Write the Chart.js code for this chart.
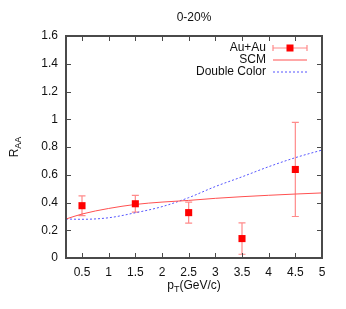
<!DOCTYPE html>
<html>
<head>
<meta charset="utf-8">
<script src="https://cdn.jsdelivr.net/npm/chart.js@4.4.1/dist/chart.umd.min.js"></script>
<style>
  html, body { margin: 0; padding: 0; background: #fff; }
  canvas { display: block; }
</style>
</head>
<body>
<canvas id="raaChart" width="346" height="309"></canvas>
<script>
// data
const ptBins = [0.5, 1.5, 2.5, 3.5, 4.5];
const auauValues = [0.377, 0.391, 0.327, 0.14, 0.638];
const auauErrors = [0.071, 0.061, 0.075, 0.113, 0.339];

const curvePt = [0.2, 0.5, 1, 1.5, 2, 2.5, 3, 3.5, 4, 4.5, 5];
const scmValues = [0.281, 0.317, 0.357, 0.386, 0.403, 0.415, 0.43, 0.442, 0.452, 0.461, 0.469];
const doubleColorValues = [0.281, 0.279, 0.29, 0.326, 0.37, 0.435, 0.515, 0.585, 0.658, 0.723, 0.778];

const xTicks = [0.5, 1, 1.5, 2, 2.5, 3, 3.5, 4, 4.5, 5];
const yTicks = [0, 0.2, 0.4, 0.6, 0.8, 1, 1.2, 1.4, 1.6];

const FONT = '"Liberation Sans", Arial, sans-serif';
const RED = '#ff0000';
const ERR_RED = 'rgba(255, 60, 60, 0.6)';
const LINE_RED = '#ff5050';
const BLUE = '#5555ff';
const FRAME = '#4a4a4a';

function drawErrorBar(ctx, x, yTop, yBot, cap) {
    ctx.beginPath();
    ctx.moveTo(x, yTop); ctx.lineTo(x, yBot);
    ctx.moveTo(x - cap, yTop); ctx.lineTo(x + cap, yTop);
    ctx.moveTo(x - cap, yBot); ctx.lineTo(x + cap, yBot);
    ctx.stroke();
}

// text with a subscript part, horizontally centred on x
function drawSubText(ctx, parts, x, y) {
    let total = 0;
    parts.forEach(p => {
        ctx.font = p.size + 'px ' + FONT;
        total += ctx.measureText(p.text).width;
    });
    let cx = x - total / 2;
    parts.forEach(p => {
        ctx.font = p.size + 'px ' + FONT;
        ctx.fillText(p.text, cx, y + (p.dy || 0));
        cx += ctx.measureText(p.text).width;
    });
}

const tickLabel = v => String(+Number(v).toFixed(1));

const gnuplotLook = {
    id: 'gnuplotLook',
    beforeDatasetsDraw(chart) {
        const { ctx, scales: { x, y } } = chart;
        ctx.save();
        ctx.strokeStyle = ERR_RED;
        ctx.lineWidth = 1.2;
        ptBins.forEach((pt, i) => {
            const px = x.getPixelForValue(pt);
            drawErrorBar(ctx, px,
                y.getPixelForValue(auauValues[i] + auauErrors[i]),
                y.getPixelForValue(auauValues[i] - auauErrors[i]), 3.5);
        });
        ctx.restore();
    },
    afterDatasetsDraw(chart) {
        const { ctx, chartArea: a, scales: { x, y } } = chart;
        ctx.save();
        ctx.strokeStyle = FRAME;
        ctx.lineWidth = 1;
        const tick = 5;
        ctx.beginPath();
        xTicks.forEach(v => {
            const px = Math.round(x.getPixelForValue(v)) + 0.5;
            ctx.moveTo(px, a.bottom); ctx.lineTo(px, a.bottom - tick);
            ctx.moveTo(px, a.top); ctx.lineTo(px, a.top + tick);
        });
        yTicks.forEach(v => {
            const py = Math.round(y.getPixelForValue(v)) + 0.5;
            ctx.moveTo(a.left, py); ctx.lineTo(a.left + tick, py);
            ctx.moveTo(a.right, py); ctx.lineTo(a.right - tick, py);
        });
        ctx.stroke();
        ctx.lineWidth = 2;
        ctx.strokeRect(a.left, a.top, a.right - a.left, a.bottom - a.top);
        ctx.restore();
    },
    afterDraw(chart) {
        const { ctx, chartArea: a } = chart;
        ctx.save();
        ctx.fillStyle = '#111';
        ctx.textBaseline = 'middle';

        // title
        ctx.textAlign = 'center';
        ctx.font = '12px ' + FONT;
        ctx.fillText('0-20%', (a.left + a.right) / 2, 18);

        // x axis title
        ctx.textAlign = 'left';
        drawSubText(ctx, [
            { text: 'p', size: 12 },
            { text: 'T', size: 9, dy: 4 },
            { text: '(GeV/c)', size: 12 }
        ], (a.left + a.right) / 2, 286);

        // y axis title
        ctx.save();
        ctx.translate(15, (a.top + a.bottom) / 2);
        ctx.rotate(-Math.PI / 2);
        drawSubText(ctx, [
            { text: 'R', size: 12 },
            { text: 'AA', size: 9, dy: 4 }
        ], 0, 0);
        ctx.restore();

        // legend
        const textRight = 266, sx0 = 273, sx1 = 307;
        const rows = [48, 60, 72];
        ctx.textAlign = 'right';
        ctx.font = '12px ' + FONT;
        ctx.fillText('Au+Au', textRight, rows[0]);
        ctx.fillText('SCM', textRight, rows[1]);
        ctx.fillText('Double Color', textRight, rows[2]);

        ctx.strokeStyle = ERR_RED;
        ctx.lineWidth = 1.2;
        ctx.beginPath();
        ctx.moveTo(sx0, rows[0]); ctx.lineTo(sx1, rows[0]);
        ctx.moveTo(sx0, rows[0] - 3); ctx.lineTo(sx0, rows[0] + 3);
        ctx.moveTo(sx1, rows[0] - 3); ctx.lineTo(sx1, rows[0] + 3);
        ctx.stroke();
        ctx.fillStyle = RED;
        ctx.fillRect((sx0 + sx1) / 2 - 3.5, rows[0] - 3.5, 7, 7);

        ctx.strokeStyle = LINE_RED;
        ctx.lineWidth = 1;
        ctx.beginPath();
        ctx.moveTo(sx0, rows[1]); ctx.lineTo(sx1, rows[1]);
        ctx.stroke();

        ctx.strokeStyle = BLUE;
        ctx.setLineDash([2, 2]);
        ctx.beginPath();
        ctx.moveTo(sx0, rows[2]); ctx.lineTo(sx1, rows[2]);
        ctx.stroke();
        ctx.restore();
    }
};

const ctx = document.getElementById('raaChart');
new Chart(ctx, {
    type: 'scatter',
    data: {
        datasets: [{
            label: 'Au+Au',
            data: ptBins.map((pt, i) => ({ x: pt, y: auauValues[i] })),
            pointStyle: 'rect',
            pointRadius: 5,
            pointBorderWidth: 0,
            backgroundColor: RED,
            borderColor: RED,
        }, {
            label: 'SCM',
            data: curvePt.map((pt, i) => ({ x: pt, y: scmValues[i] })),
            showLine: true,
            pointRadius: 0,
            borderColor: LINE_RED,
            borderWidth: 1,
            cubicInterpolationMode: 'monotone',
        }, {
            label: 'Double Color',
            data: curvePt.map((pt, i) => ({ x: pt, y: doubleColorValues[i] })),
            showLine: true,
            pointRadius: 0,
            borderColor: BLUE,
            borderWidth: 1,
            borderDash: [2, 2],
            cubicInterpolationMode: 'monotone',
        }]
    },
    options: {
        responsive: false,
        animation: false,
        devicePixelRatio: 1,
        layout: {
            padding: { left: 0, top: 36, right: 24, bottom: 0 }
        },
        plugins: {
            legend: { display: false },
            tooltip: { enabled: false },
            title: { display: false }
        },
        scales: {
            x: {
                type: 'linear',
                min: 0.2,
                max: 5,
                afterBuildTicks: s => { s.ticks = xTicks.map(v => ({ value: v })); },
                afterFit: s => { s.height = 51; },
                grid: { display: false, drawTicks: false, tickLength: 0 },
                border: { display: false },
                ticks: {
                    padding: 7,
                    maxRotation: 0,
                    autoSkip: false,
                    color: '#111',
                    font: { family: FONT, size: 12 },
                    callback: tickLabel
                }
            },
            y: {
                type: 'linear',
                min: 0,
                max: 1.6,
                afterBuildTicks: s => { s.ticks = yTicks.map(v => ({ value: v })); },
                afterFit: s => { s.width = 66; },
                grid: { display: false, drawTicks: false, tickLength: 0 },
                border: { display: false },
                ticks: {
                    padding: 8,
                    autoSkip: false,
                    color: '#111',
                    font: { family: FONT, size: 12 },
                    callback: tickLabel
                }
            }
        }
    },
    plugins: [gnuplotLook]
});
</script>
</body>
</html>
